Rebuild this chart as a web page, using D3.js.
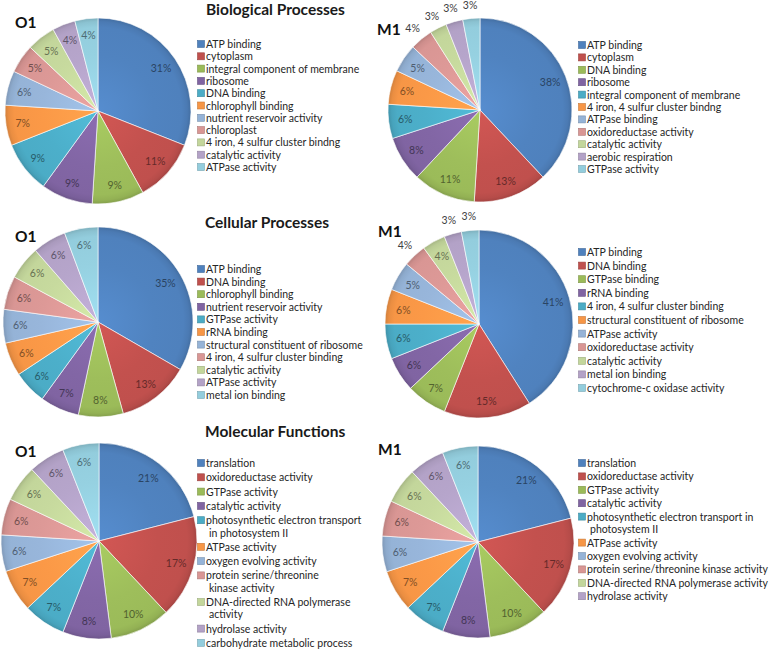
<!DOCTYPE html>
<html><head><meta charset="utf-8">
<script src="https://cdn.jsdelivr.net/npm/d3@7"></script>
<style>
body{margin:0;background:#fff}
svg{display:block;font-family:Lato,"Liberation Sans",sans-serif}
</style></head><body>
<svg id="c" width="778" height="650"></svg>
<script>
// ---------- colours (Office 2007 palette) ----------
const palette = ["#4F81BD","#C0504D","#9BBB59","#8064A2","#4BACC6","#F79646",
                 "#95B3D7","#D99694","#C3D69B","#B3A2C7","#93CDDD"];

// ---------- titles ----------
const sectionTitles = ["Biological Processes","Cellular Processes","Molecular Functions"];
const sampleTags = ["O1","M1"];

// ---------- Biological Processes ----------
const bioO1Labels = ["ATP binding","cytoplasm","integral component of membrane","ribosome","DNA binding",
  "chlorophyll binding","nutrient reservoir activity","chloroplast","4 iron, 4 sulfur cluster bindng",
  "catalytic activity","ATPase activity"];
const bioO1Values = [31,11,9,9,9,7,6,5,5,4,4];

const bioM1Labels = ["ATP binding","cytoplasm","DNA binding","ribosome","integral component of membrane",
  "4 iron, 4 sulfur cluster bindng","ATPase binding","oxidoreductase activity","catalytic activity",
  "aerobic respiration","GTPase activity"];
const bioM1Values = [38,13,11,8,6,6,5,4,3,3,3];

// ---------- Cellular Processes ----------
const cellO1Labels = ["ATP binding","DNA binding","chlorophyll binding","nutrient reservoir activity",
  "GTPase activity","rRNA binding","structural constituent of ribosome","4 iron, 4 sulfur cluster binding",
  "catalytic activity","ATPase activity","metal ion binding"];
const cellO1Values = [35,13,8,7,6,6,6,6,6,6,6];

const cellM1Labels = ["ATP binding","DNA binding","GTPase binding","rRNA binding",
  "4 iron, 4 sulfur cluster binding","structural constituent of ribosome","ATPase activity",
  "oxidoreductase activity","catalytic activity","metal ion binding","cytochrome-c oxidase activity"];
const cellM1Values = [41,15,7,6,6,6,5,4,4,3,3];

// ---------- Molecular Functions ----------
const molO1Labels = ["translation","oxidoreductase activity","GTPase activity","catalytic activity",
  "photosynthetic electron transport\nin photosystem II","ATPase activity","oxygen evolving activity",
  "protein serine/threonine\nkinase activity","DNA-directed RNA polymerase\nactivity","hydrolase activity",
  "carbohydrate metabolic process"];
const molO1Values = [21,17,10,8,7,7,6,6,6,6,6];

const molM1Labels = ["translation","oxidoreductase activity","GTPase activity","catalytic activity",
  "photosynthetic electron transport in\nphotosystem II","ATPase activity","oxygen evolving activity",
  "protein serine/threonine kinase activity","DNA-directed RNA polymerase activity","hydrolase activity"];
const molM1Values = [21,17,10,8,7,7,6,6,6,6,6];

// ---------- layout (positions only) ----------
const panels = [
  {labels:bioO1Labels, values:bioO1Values, tag:0, tagX:15, tagY:28, cx:98, cy:111, r:93,
   lx:198, ly:44, ldy:12.3, lineDy:12.3, outside:[]},
  {labels:bioM1Labels, values:bioM1Values, tag:1, tagX:377, tagY:35, cx:480, cy:110, r:92,
   lx:579, ly:45, ldy:12.4, lineDy:12.3, outside:[7,8,9,10]},
  {labels:cellO1Labels, values:cellO1Values, tag:0, tagX:15, tagY:242, cx:98, cy:322, r:95,
   lx:198, ly:269, ldy:12.6, lineDy:12.3, outside:[]},
  {labels:cellM1Labels, values:cellM1Values, tag:1, tagX:378, tagY:237, cx:479, cy:324, r:94,
   lx:579, ly:252, ldy:13.6, lineDy:12.3, outside:[7,9,10]},
  {labels:molO1Labels, values:molO1Values, tag:0, tagX:15, tagY:457, cx:99, cy:541, r:98,
   lx:198, ly:463, ldy:14.3, lineDy:12.3, outside:[]},
  {labels:molM1Labels, values:molM1Values, tag:1, tagX:378, tagY:455, cx:478, cy:542, r:96,
   lx:579, ly:463, ldy:13.4, lineDy:12.6, outside:[]}
];
const titlePos = [{x:206, y:15},{x:205, y:228},{x:205, y:437}];

const svg = d3.select("#c");
const defs = svg.append("defs");

sectionTitles.forEach((t,i)=>{
  svg.append("text").attr("x",titlePos[i].x).attr("y",titlePos[i].y)
    .attr("font-size",15.5).attr("font-weight","bold").attr("fill","#1a1a1a").text(t);
});

panels.forEach((p,pi)=>{
  svg.append("text").attr("x",p.tagX).attr("y",p.tagY).attr("font-size",15.5)
    .attr("font-weight","bold").attr("fill","#111").text(sampleTags[p.tag]);

  const g = svg.append("g").attr("transform",`translate(${p.cx},${p.cy})`);
  palette.forEach((c,ci)=>{
    const gr = defs.append("radialGradient").attr("id",`g${pi}_${ci}`)
      .attr("gradientUnits","userSpaceOnUse").attr("cx",0).attr("cy",0).attr("r",p.r);
    const base = d3.color(c);
    [[0, base.brighter(0.25)],[0.6, base.brighter(0.05)],[0.9, base],[0.96, base.darker(0.15)],[1, base.darker(0.45)]]
      .forEach(([o,col])=>gr.append("stop").attr("offset",o).attr("stop-color",col.formatHex()));
  });

  const data = p.values.map((v,i)=>({v,i}));
  const arcs = d3.pie().sort(null).value(d=>d.v)(data);
  const arc = d3.arc().innerRadius(0).outerRadius(p.r);
  g.selectAll("path.s").data(arcs).enter().append("path")
    .attr("d",arc).attr("fill",d=>`url(#g${pi}_${d.data.i})`)
    .attr("stroke","rgba(255,255,255,0.6)").attr("stroke-width",1).attr("stroke-linejoin","round");

  const inArc = d3.arc().innerRadius(p.r*0.82).outerRadius(p.r*0.82);
  const outArc = d3.arc().innerRadius(p.r*1.15).outerRadius(p.r*1.15);
  g.selectAll("text.l").data(arcs).enter().append("text")
    .attr("transform",d=>{
      const pt = (p.outside.includes(d.data.i) ? outArc : inArc).centroid(d);
      return `translate(${pt[0]},${pt[1]})`;
    })
    .attr("text-anchor","middle").attr("dominant-baseline","central")
    .attr("font-size",10.5)
    .attr("fill",d=>p.outside.includes(d.data.i) ? "#404040" : d3.color(palette[d.data.i]).darker(1.8).formatHex())
    .text(d=>d.data.v+"%");

  // legend
  const lg = svg.append("g");
  let y = p.ly;
  p.labels.forEach((lab,i)=>{
    const lines = lab.split("\n");
    lg.append("rect").attr("x",p.lx-0.5).attr("y",y-3.5).attr("width",7).attr("height",7)
      .attr("fill",palette[i]).attr("stroke",d3.color(palette[i]).darker(0.6).formatHex()).attr("stroke-width",0.6);
    lines.forEach((ln,k)=>{
      lg.append("text").attr("x",p.lx+8+(k>0?3:0)).attr("y",y+k*p.lineDy)
        .attr("dominant-baseline","central").attr("font-size",10.5).attr("fill","#262626").text(ln);
    });
    y += (lines.length-1)*p.lineDy + p.ldy;
  });
});
</script>
</body></html>
